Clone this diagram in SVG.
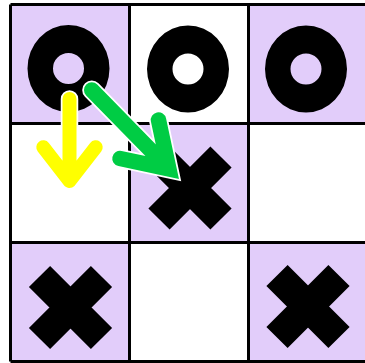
<svg xmlns="http://www.w3.org/2000/svg" xmlns:xlink="http://www.w3.org/1999/xlink" width="365" height="363" viewBox="0 0 365 363">
<style>
.lav{fill:#e2cdfa}
.wht{fill:#ffffff}
.grid{stroke:#000;stroke-width:3;fill:none}
.ring{fill:#000;fill-rule:evenodd}
.cross{stroke:#000;stroke-width:30;stroke-linecap:butt;fill:none}
.outline{stroke:#fff;fill:none;stroke-linecap:round}
.yel{stroke:#ffff00;stroke-width:14;fill:none;stroke-linecap:round;stroke-linejoin:round}
.grn{stroke:#00cc44;stroke-width:15.5;fill:none;stroke-linecap:round;stroke-linejoin:miter}
</style>
<defs>
<path id="o" class="ring" d="M-41,0 a41,43.5 0 1,0 82,0 a41,43.5 0 1,0 -82,0 Z M-15.5,0 a15.5,15.5 0 1,0 31,0 a15.5,15.5 0 1,0 -31,0 Z"/>
<path id="x" class="cross" d="M-31,-31 L31,31 M31,-31 L-31,31"/>
</defs>
<rect x="0" y="0" width="365" height="363" fill="#fff"/>
<g id="cell-0-0"><rect class="lav" x="10.5" y="4.5" width="119" height="119"/><use xlink:href="#o" x="68.5" y="68.5"/></g>
<g id="cell-0-1"><rect class="wht" x="129.5" y="4.5" width="119" height="119"/><use xlink:href="#o" x="188" y="69"/></g>
<g id="cell-0-2"><rect class="lav" x="248.5" y="4.5" width="119" height="119"/><use xlink:href="#o" x="306" y="69"/></g>
<g id="cell-1-0"><rect class="wht" x="10.5" y="123.5" width="119" height="119"/></g>
<g id="cell-1-1"><rect class="lav" x="129.5" y="123.5" width="119" height="119"/><use xlink:href="#x" x="190" y="188"/></g>
<g id="cell-1-2"><rect class="wht" x="248.5" y="123.5" width="119" height="119"/></g>
<g id="cell-2-0"><rect class="lav" x="10.5" y="242.5" width="119" height="119"/><use xlink:href="#x" x="70.5" y="307.5"/></g>
<g id="cell-2-1"><rect class="wht" x="129.5" y="242.5" width="119" height="119"/></g>
<g id="cell-2-2"><rect class="lav" x="248.5" y="242.5" width="119" height="119"/><use xlink:href="#x" x="308" y="306.5"/></g>
<g id="grid" class="grid">
<path d="M10.5,4.5 V361.5 M129.5,4.5 V361.5 M248.5,4.5 V361.5 M367.5,4.5 V361.5 M10.5,4.5 H367.5 M10.5,123.5 H367.5 M10.5,242.5 H367.5 M10.5,361.5 H367.5"/>
</g>
<g id="connectors">
<g id="arrow-yellow">
<path class="outline" stroke-width="17.5" stroke-linejoin="round" d="M69.5,99 V181 M43.3,147.3 L69.5,181 L95.7,147.3"/>
<path class="yel" d="M69.5,99 V181 M43.3,147.3 L69.5,181 L95.7,147.3"/>
</g>
<g id="arrow-green">
<path class="outline" stroke-width="19" stroke-linejoin="miter" d="M91.7,90 L168.9,168.9 M158.5,120 L168.9,168.9 L120,158.5"/>
<path class="grn" d="M91.7,90 L168.9,168.9 M158.5,120 L168.9,168.9 L120,158.5"/>
</g>
</g>
</svg>
